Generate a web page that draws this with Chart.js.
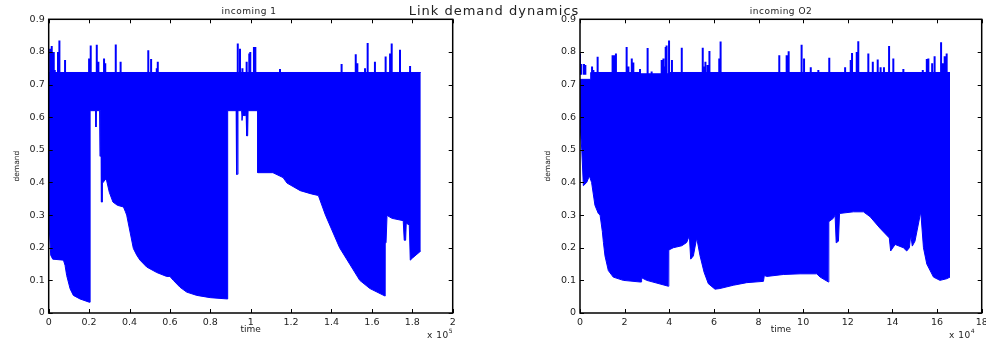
<!DOCTYPE html>
<html>
<head>
<meta charset="utf-8">
<script src="https://cdn.jsdelivr.net/npm/chart.js@4.4.1/dist/chart.umd.min.js"></script>
<style>
  html, body { margin: 0; padding: 0; background: #fff; overflow: hidden; }
  #wrap { position: relative; width: 986px; height: 340px; font-family: "DejaVu Sans", sans-serif; color: #222; }
  canvas { position: absolute; top: 0; }
  .lbl { position: absolute; white-space: nowrap; transform: translate(-50%, -50%); }
  .lbl sup { font-size: 6px; vertical-align: 5px; }
</style>
</head>
<body>
<div id="wrap">
  <canvas id="chart1" width="470" height="340" style="left:0;width:470px;height:340px"></canvas>
  <canvas id="chart2" width="486" height="340" style="left:510px;width:486px;height:340px"></canvas>
  <div class="lbl" style="left:494px;top:10px;font-size:13px;letter-spacing:1px">Link demand dynamics</div>
  <div class="lbl" style="left:249px;top:11px;font-size:9px;letter-spacing:0.5px">incoming 1</div>
  <div class="lbl" style="left:781px;top:11px;font-size:9px;letter-spacing:0.5px">incoming O2</div>
  <div class="lbl" style="left:440px;top:333px;font-size:9px;letter-spacing:0.5px">x 10<sup>5</sup></div>
  <div class="lbl" style="left:962px;top:333px;font-size:9px;letter-spacing:0.5px">x 10<sup>4</sup></div>
</div>
<script>
// ---- incoming 1 ----
const upperTime1 = [0, 184200];
const upperDemand1 = [0.737, 0.737];

const lowerTime1 = [
  0, 300, 1000, 2000, 7300, 8100, 8900, 10600, 12200, 15500,
  20100, 20500, 20500, 23200, 23400, 23600, 25200, 25400, 25600, 25900,
  26100, 26400, 26600, 27000, 28000, 28700, 30000, 31800, 34000, 37000,
  38000, 38600, 41900, 43600, 45200, 48500, 53500, 58400, 60000, 61700,
  65000, 68300, 73300, 80000, 88600, 88600, 92800, 93000, 93500, 93700,
  95500, 95700, 96000, 96200, 96500, 97500, 97700, 98000, 98500, 98700,
  103500, 103500, 111000, 116000, 118000, 124500, 130000, 133500, 137000, 144000,
  149000, 154000, 159000, 165500, 166500, 166600, 167000, 167500, 168000, 170000,
  175500, 176000, 176700, 177000, 178500, 179000, 180000, 183800, 184200
];
const lowerDemand1 = [
  0.25, 0.255, 0.177, 0.165, 0.162, 0.146, 0.115, 0.074, 0.054, 0.043,
  0.033, 0.033, 0.62, 0.62, 0.57, 0.62, 0.62, 0.48, 0.62, 0.62,
  0.34, 0.34, 0.40, 0.40, 0.41, 0.405, 0.37, 0.34, 0.33, 0.325,
  0.31, 0.30, 0.198, 0.177, 0.162, 0.141, 0.124, 0.112, 0.112, 0.10,
  0.079, 0.064, 0.054, 0.047, 0.043, 0.62, 0.62, 0.425, 0.425, 0.62,
  0.62, 0.59, 0.59, 0.62, 0.605, 0.605, 0.62, 0.543, 0.543, 0.62,
  0.62, 0.43, 0.43, 0.415, 0.398, 0.375, 0.365, 0.36, 0.30, 0.20,
  0.15, 0.10, 0.075, 0.055, 0.052, 0.215, 0.215, 0.30, 0.297, 0.29,
  0.283, 0.223, 0.223, 0.275, 0.27, 0.162, 0.168, 0.188, 0.19
];

const spikeTime1 = [
  700, 1500, 2500, 3000, 4600, 5300, 8100, 20000, 20800, 23800,
  24600, 27400, 28000, 33200, 35600, 49300, 50700, 53500, 54000, 93600,
  94700, 95900, 98000, 99300, 99800, 101600, 102300, 114500, 145000, 152000,
  152800, 156600, 157900, 161500, 166800, 169000, 169800, 173900, 178900
];
const spikeDemand1 = [
  0.81, 0.818, 0.80, 0.745, 0.80, 0.835, 0.775, 0.78, 0.82, 0.822,
  0.77, 0.78, 0.765, 0.823, 0.77, 0.805, 0.778, 0.75, 0.77, 0.826,
  0.81, 0.75, 0.77, 0.795, 0.80, 0.815, 0.815, 0.748, 0.763, 0.793,
  0.765, 0.75, 0.827, 0.77, 0.786, 0.795, 0.826, 0.807, 0.757
];

// ---- incoming O2 ----
const upperTime2 = [0, 4800, 4800, 26900, 26900, 40000, 40000, 165800];
const upperDemand2 = [0.716, 0.716, 0.737, 0.737, 0.733, 0.733, 0.737, 0.737];

const lowerTime2 = [
  0, 800, 1500, 3000, 4200, 5200, 6700, 8200, 9000, 10000,
  10500, 11200, 12700, 14900, 19400, 26900, 27400, 27600, 29900, 39600,
  39800, 41800, 45600, 47800, 49000, 49600, 50800, 52300, 53800, 55600,
  57500, 60500, 62700, 68700, 74700, 82200, 82600, 83700, 91100, 98600,
  106100, 107600, 111300, 111500, 113500, 114300, 114800, 115800, 116300, 122500,
  127000, 130000, 134400, 138600, 139200, 141200, 144900, 146400, 147600, 148200,
  148900, 150100, 152700, 153900, 155400, 158400, 161300, 164300, 165800
];
const lowerDemand2 = [
  0.58, 0.50, 0.39, 0.40, 0.42, 0.40, 0.33, 0.305, 0.30, 0.25,
  0.216, 0.175, 0.13, 0.11, 0.10, 0.095, 0.095, 0.108, 0.10, 0.082,
  0.193, 0.20, 0.206, 0.216, 0.237, 0.165, 0.175, 0.23, 0.175, 0.125,
  0.09, 0.073, 0.075, 0.085, 0.093, 0.097, 0.115, 0.112, 0.118, 0.12,
  0.12, 0.11, 0.095, 0.28, 0.29, 0.30, 0.215, 0.22, 0.305, 0.31,
  0.31, 0.295, 0.26, 0.23, 0.19, 0.21, 0.20, 0.19, 0.20, 0.24,
  0.205, 0.22, 0.31, 0.20, 0.15, 0.11, 0.10, 0.105, 0.11
];

const spikeTime2 = [
  0, 600, 1800, 2400, 5400, 6000, 7900, 14600, 15200, 16100,
  20900, 21700, 23200, 23900, 26900, 30300, 32100, 36600, 37400, 37800,
  38400, 38800, 39900, 41200, 45600, 55000, 55600, 56200, 57200, 58000,
  62400, 63000, 89300, 92600, 93500, 99300, 100400, 103400, 106800, 111700,
  118800, 121300, 121900, 124000, 124700, 129200, 131200, 133400, 134700, 136200,
  138500, 140400, 144900, 153600, 155400, 156100, 157800, 158900, 161800, 162500,
  163400, 164300
];
const spikeDemand2 = [
  0.795, 0.763, 0.763, 0.76, 0.755, 0.745, 0.785, 0.79, 0.79, 0.795,
  0.815, 0.755, 0.78, 0.768, 0.748, 0.812, 0.74, 0.775, 0.78, 0.755,
  0.815, 0.82, 0.835, 0.775, 0.813, 0.813, 0.755, 0.77, 0.76, 0.803,
  0.78, 0.832, 0.79, 0.79, 0.802, 0.822, 0.78, 0.753, 0.745, 0.782,
  0.753, 0.775, 0.797, 0.80, 0.833, 0.795, 0.77, 0.777, 0.753, 0.753,
  0.818, 0.78, 0.748, 0.745, 0.778, 0.78, 0.765, 0.787, 0.83, 0.765,
  0.787, 0.795
];

const SPIKE_BASE = 0.73;
const BLUE = '#0000ff';

Chart.defaults.font.family = '"DejaVu Sans", sans-serif';
Chart.defaults.font.size = 9.5;
Chart.defaults.color = '#222';

function points(xs, ys) {
  return xs.map((x, i) => ({ x: x, y: ys[i] }));
}

function spikePoints(xs, ys) {
  const out = [];
  xs.forEach((x, i) => {
    out.push({ x: x, y: SPIKE_BASE }, { x: x, y: ys[i] }, { x: x, y: null });
  });
  return out;
}

// MATLAB style box with inward ticks on all four sides
const matlabAxes = {
  id: 'matlabAxes',
  afterDatasetsDraw(chart) {
    const { ctx, chartArea: a, scales: { x, y } } = chart;
    ctx.save();
    ctx.strokeStyle = '#000';
    ctx.lineWidth = 1;
    ctx.beginPath();
    x.ticks.forEach(t => {
      const px = Math.round(x.getPixelForValue(t.value)) + 0.5;
      ctx.moveTo(px, a.bottom); ctx.lineTo(px, a.bottom - 4);
      ctx.moveTo(px, a.top); ctx.lineTo(px, a.top + 4);
    });
    y.ticks.forEach(t => {
      const py = Math.round(y.getPixelForValue(t.value)) + 0.5;
      ctx.moveTo(a.left, py); ctx.lineTo(a.left + 4, py);
      ctx.moveTo(a.right, py); ctx.lineTo(a.right - 4, py);
    });
    ctx.stroke();
    ctx.lineWidth = 1.5;
    ctx.strokeRect(a.left, a.top, a.right - a.left, a.bottom - a.top);
    ctx.restore();
  }
};

function makeChart(id, cfg) {
  const ctx = document.getElementById(id).getContext('2d');
  return new Chart(ctx, {
    type: 'line',
    data: {
      datasets: [{
        data: points(cfg.upperTime, cfg.upperDemand),
        borderColor: BLUE,
        backgroundColor: BLUE,
        borderWidth: 1,
        pointRadius: 0,
        fill: '+1'
      }, {
        data: points(cfg.lowerTime, cfg.lowerDemand),
        borderColor: BLUE,
        borderWidth: 1,
        pointRadius: 0,
        fill: false
      }, {
        data: spikePoints(cfg.spikeTime, cfg.spikeDemand),
        borderColor: BLUE,
        borderWidth: 2,
        pointRadius: 0,
        fill: false,
        spanGaps: false
      }]
    },
    options: {
      responsive: false,
      animation: false,
      devicePixelRatio: 1,
      layout: { padding: { top: 19.3, right: cfg.padRight, left: 0, bottom: 0 } },
      plugins: { legend: { display: false }, tooltip: { enabled: false } },
      scales: {
        x: {
          type: 'linear',
          min: 0,
          max: cfg.xMax,
          grid: { display: false, drawTicks: false },
          border: { display: false },
          ticks: {
            stepSize: cfg.xStep,
            padding: 4,
            maxRotation: 0,
            autoSkip: false,
            callback: v => String(+(v / cfg.xScale).toFixed(1))
          },
          title: { display: true, text: 'time', font: { size: 9 }, padding: { top: 0, bottom: 4.6 } },
          afterFit: s => { s.height = 27; }
        },
        y: {
          min: 0,
          max: 0.9,
          grid: { display: false, drawTicks: false },
          border: { display: false },
          ticks: {
            stepSize: 0.1,
            padding: 4,
            callback: v => String(+v.toFixed(1))
          },
          title: { display: true, text: 'demand', font: { size: 7.5 }, padding: { top: cfg.yTitlePad, bottom: 0 } },
          afterFit: s => { s.width = cfg.yWidth; }
        }
      }
    },
    plugins: [matlabAxes]
  });
}

makeChart('chart1', {
  upperTime: upperTime1, upperDemand: upperDemand1,
  lowerTime: lowerTime1, lowerDemand: lowerDemand1,
  spikeTime: spikeTime1, spikeDemand: spikeDemand1,
  xMax: 200000, xStep: 20000, xScale: 1e5,
  yWidth: 48.7, padRight: 17.3, yTitlePad: 12.5
});

makeChart('chart2', {
  upperTime: upperTime2, upperDemand: upperDemand2,
  lowerTime: lowerTime2, lowerDemand: lowerDemand2,
  spikeTime: spikeTime2, spikeDemand: spikeDemand2,
  xMax: 180000, xStep: 20000, xScale: 1e4,
  yWidth: 70, padRight: 14.3, yTitlePad: 33.5
});
</script>
</body>
</html>
